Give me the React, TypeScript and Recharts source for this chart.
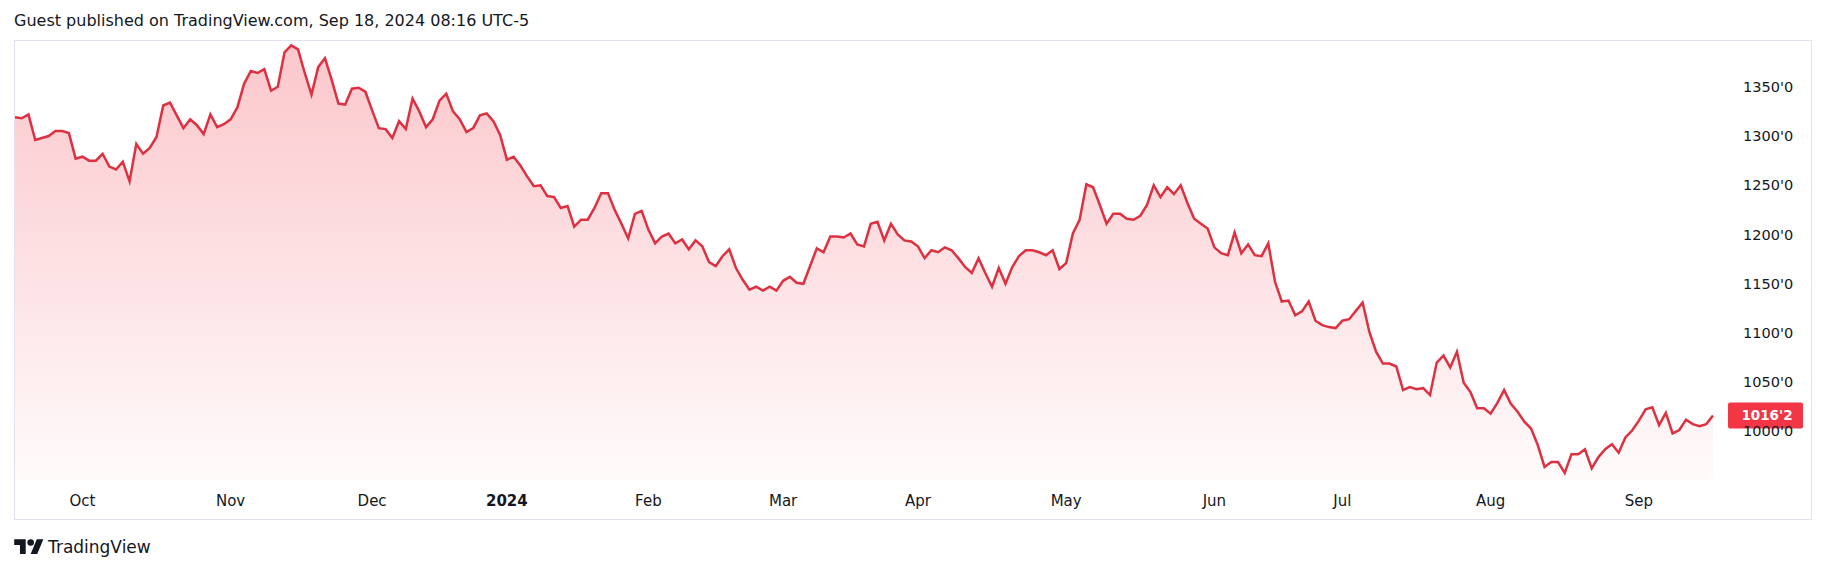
import React from "react";
import { ComposedChart, Area, XAxis, YAxis, ReferenceDot } from "recharts";

// daily closes, Sep 18 2023 -> Sep 18 2024 (cents)
const closes: number[] = [
  1319, 1318, 1322, 1296, 1298, 1300, 1305, 1305, 1303, 1277,
  1279, 1275, 1275, 1282, 1269, 1266, 1274, 1254, 1292, 1282,
  1288, 1299, 1331, 1334, 1321, 1308, 1317, 1311, 1302, 1322,
  1309, 1312, 1317, 1329, 1353, 1366, 1364, 1368, 1346, 1350,
  1385, 1392, 1388, 1364, 1342, 1370, 1379, 1357, 1333, 1332,
  1348, 1349, 1345, 1326, 1308, 1307, 1298, 1315, 1307, 1338,
  1325, 1309, 1317, 1336, 1343, 1325, 1317, 1304, 1308, 1321,
  1323, 1315, 1301, 1276, 1279, 1270, 1259, 1249, 1250, 1239,
  1238, 1227, 1229, 1208, 1215, 1215, 1227, 1242, 1242, 1225,
  1211, 1196, 1221, 1224, 1205, 1191, 1198, 1201, 1191, 1195,
  1185, 1194, 1188, 1172, 1168, 1178, 1185, 1166, 1154, 1144,
  1147, 1143, 1147, 1143, 1153, 1157, 1151, 1150, 1168, 1186,
  1182, 1198, 1198, 1197, 1201, 1190, 1188, 1211, 1213, 1194,
  1211, 1200, 1194, 1193, 1188, 1176, 1184, 1182, 1187, 1184,
  1176, 1167, 1161, 1176, 1161, 1147, 1166, 1150, 1167, 1178,
  1184, 1184, 1182, 1179, 1184, 1165, 1171, 1201, 1215, 1251,
  1248, 1230, 1211, 1221, 1221, 1216, 1215, 1219, 1230, 1250,
  1238, 1248, 1241, 1250, 1232, 1216, 1211, 1206, 1187, 1181,
  1179, 1202, 1181, 1190, 1179, 1178, 1191, 1152, 1132, 1133,
  1118, 1122, 1132, 1112.5, 1108, 1106, 1105, 1112.5, 1114, 1122.5,
  1131, 1101, 1081, 1069, 1069, 1066, 1042, 1045, 1043, 1044,
  1037, 1070, 1077, 1065, 1081, 1049.5, 1040, 1023.5, 1023.5, 1018,
  1029, 1042, 1028, 1020, 1010, 1003, 986, 964, 969, 969,
  958, 977, 977, 982, 962.5, 974, 982, 987, 978.5, 994,
  1001, 1011, 1022.5, 1024.5, 1006.5, 1019, 998, 1001.5, 1012, 1007.5,
  1005.5, 1007.5, 1016.25,
];

// first session of each month (index into closes)
const monthTicks = [10, 32, 53, 73, 94, 114, 134, 156, 178, 197, 219, 241];
const monthLabels = ["Oct", "Nov", "Dec", "2024", "Feb", "Mar", "Apr", "May", "Jun", "Jul", "Aug", "Sep"];
const priceTicks = [1000, 1050, 1100, 1150, 1200, 1250, 1300, 1350];
const lastPriceLabel = "1016'2";

const data = closes.map((close, i) => ({ i, close }));
const lastIndex = closes.length - 1;

const RED = "#F23645";
const LINE = "#DD3141";
const TEXT = "#131722";
const FONT = '"DejaVu Sans", sans-serif';

function TimeTick({ x, y, payload }: any) {
  const label = monthLabels[monthTicks.indexOf(payload.value)] ?? "";
  return (
    <text
      x={x}
      y={y + 13}
      textAnchor="middle"
      dominantBaseline="central"
      fontSize={15}
      fontWeight={label === "2024" ? 700 : 400}
      fill={TEXT}
      fontFamily={FONT}
    >
      {label}
    </text>
  );
}

function PriceTick({ x, y, payload }: any) {
  return (
    <text x={x + 22} y={y} textAnchor="start" dominantBaseline="central" fontSize={14.5} fill={TEXT} fontFamily={FONT}>
      {`${payload.value}'0`}
    </text>
  );
}

function LastPriceBadge({ cx, cy }: any) {
  return (
    <g>
      <rect x={cx + 15} y={cy - 13} width={75} height={26} rx={2} fill={RED} />
      <text
        x={cx + 54}
        y={cy}
        textAnchor="middle"
        dominantBaseline="central"
        fill="#ffffff"
        fontSize={13.5}
        fontWeight={700}
        fontFamily={FONT}
      >
        {lastPriceLabel}
      </text>
    </g>
  );
}

function Logo() {
  return (
    <svg width={30} height={23} viewBox="0 0 36 28">
      <path d="M14 22H7V11H0V4h14v18zM28 22h-8l7.5-18h8L28 22z" fill={TEXT} />
      <circle cx={20} cy={8} r={4} fill={TEXT} />
    </svg>
  );
}

export default function App() {
  return (
    <div style={{ position: "absolute", left: 0, top: 0, width: 1827, height: 574, background: "#fff", fontFamily: FONT, color: TEXT }}>
      <div style={{ position: "absolute", left: 14, top: 12, fontSize: 16, lineHeight: "18px", whiteSpace: "nowrap" }}>
        Guest published on TradingView.com, Sep 18, 2024 08:16 UTC-5
      </div>

      <div style={{ position: "absolute", left: 14, top: 40, width: 1798, height: 480, border: "1px solid #E0E3EB", boxSizing: "border-box" }} />

      <div style={{ position: "absolute", left: 14, top: 40 }}>
        <ComposedChart width={1798} height={480} data={data} margin={{ top: 0, right: 0, left: 1, bottom: 0 }}>
          <defs>
            <linearGradient id="areaFill" x1="0" y1="0" x2="0" y2="1">
              <stop offset="0%" stopColor={RED} stopOpacity={0.28} />
              <stop offset="100%" stopColor={RED} stopOpacity={0.02} />
            </linearGradient>
          </defs>
          <XAxis
            dataKey="i"
            type="number"
            domain={[0, lastIndex]}
            ticks={monthTicks}
            interval={0}
            height={40}
            axisLine={false}
            tickLine={false}
            tick={<TimeTick />}
          />
          <YAxis
            orientation="right"
            type="number"
            domain={[950.75, 1397.5]}
            ticks={priceTicks}
            width={99}
            axisLine={false}
            tickLine={false}
            tick={<PriceTick />}
            allowDataOverflow
          />
          <Area
            type="linear"
            dataKey="close"
            stroke={LINE}
            strokeWidth={2.5}
            fill="url(#areaFill)"
            fillOpacity={1}
            dot={false}
            activeDot={false}
            isAnimationActive={false}
          />
          <ReferenceDot x={lastIndex} y={closes[lastIndex]} r={0} shape={<LastPriceBadge />} ifOverflow="visible" />
        </ComposedChart>
      </div>

      <div style={{ position: "absolute", left: 14, top: 535, display: "flex", alignItems: "center", gap: 4 }}>
        <Logo />
        <span style={{ fontSize: 17, lineHeight: "24px" }}>TradingView</span>
      </div>
    </div>
  );
}
